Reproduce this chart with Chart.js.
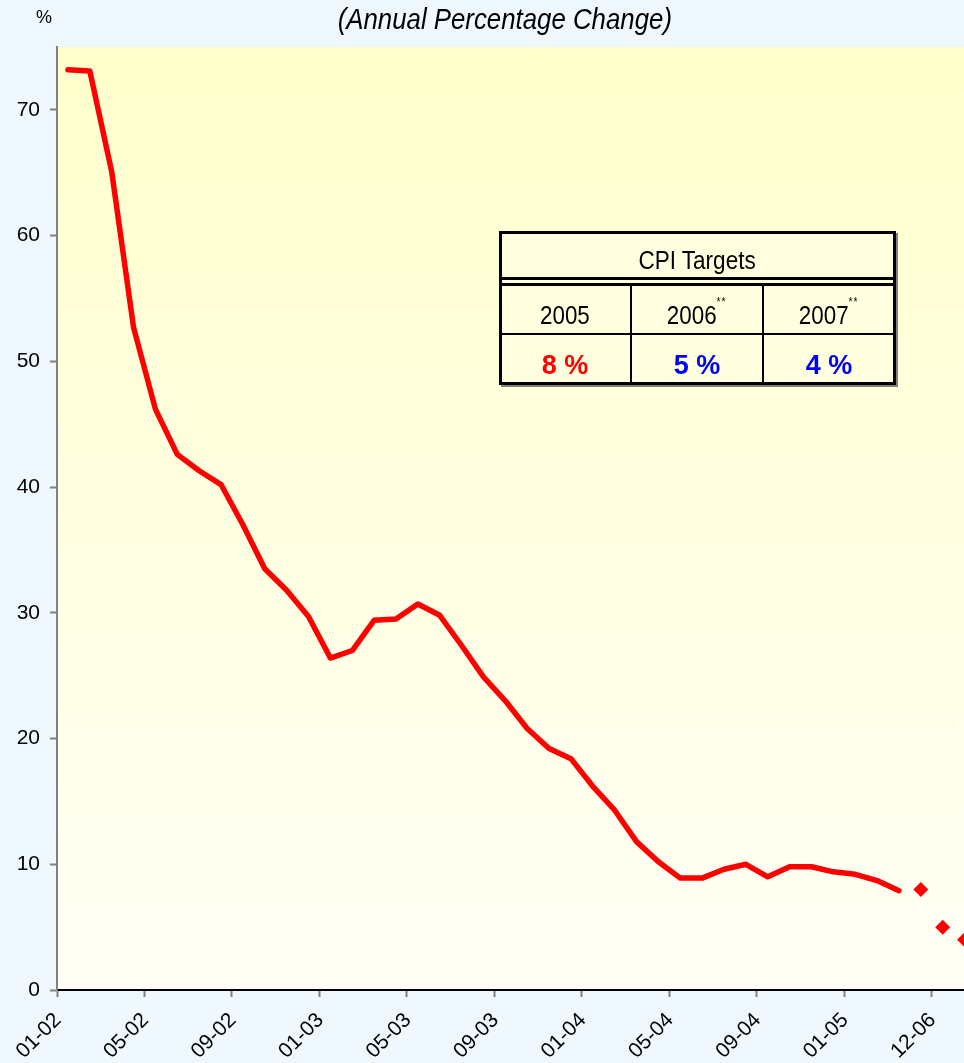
<!DOCTYPE html>
<html><head><meta charset="utf-8">
<script src="https://cdn.jsdelivr.net/npm/chart.js@4/dist/chart.umd.min.js"></script>
<style>
html,body{margin:0;padding:0;overflow:hidden;background:#F0F8FF;width:964px;height:1063px;}
#wrap{position:absolute;left:0;top:0;width:983px;height:1063px;}
canvas{display:block;}
.t{position:absolute;font-family:"Liberation Sans",Arial,sans-serif;color:#000;white-space:nowrap;text-align:center;}
.t span.s{display:inline-block;transform-origin:50% 50%;}
.ast{position:relative;top:-18px;font-size:12px;line-height:12px;letter-spacing:1px;}
.ln{position:absolute;background:#000;}
</style>
</head>
<body>
<div id="wrap"><canvas id="c" width="983" height="1063"></canvas></div>
<div class="t" id="pct" style="left:24px;width:40px;top:8px;font-size:18px;line-height:18px;">%</div>
<div class="t" id="title" style="left:255px;width:500px;top:5px;font-size:29px;line-height:29px;font-style:italic;"><span class="s" style="transform:scaleX(0.89)">(Annual Percentage Change)</span></div>

<div id="tbl" style="position:absolute;left:499px;top:231px;width:397px;height:154px;background:#FFFFE0;border:3px solid #000;box-sizing:border-box;box-shadow:2px 2px 0 #808080;"></div>
<div class="ln" style="left:499px;top:277px;width:397px;height:3px;"></div>
<div class="ln" style="left:499px;top:283px;width:397px;height:3px;"></div>
<div class="ln" style="left:499px;top:333px;width:397px;height:2px;"></div>
<div class="ln" style="left:630px;top:283px;width:2px;height:102px;"></div>
<div class="ln" style="left:762px;top:283px;width:2px;height:102px;"></div>
<div class="t" style="left:499px;width:397px;top:248px;font-size:25px;line-height:25px;"><span class="s" style="transform:scaleX(0.9)">CPI Targets</span></div>
<div class="t" style="left:499px;width:132px;top:302px;font-size:26px;line-height:26px;"><span class="s" style="transform:scaleX(0.86)">2005</span></div>
<div class="t" style="left:631px;width:132px;top:302px;font-size:26px;line-height:26px;"><span class="s" style="transform:scaleX(0.86)">2006<span class="ast">**</span></span></div>
<div class="t" style="left:763px;width:132px;top:302px;font-size:26px;line-height:26px;"><span class="s" style="transform:scaleX(0.86)">2007<span class="ast">**</span></span></div>
<div class="t" style="left:499px;width:132px;top:352px;font-size:27px;line-height:27px;font-weight:bold;color:#FF0000;">8 %</div>
<div class="t" style="left:631px;width:132px;top:352px;font-size:27px;line-height:27px;font-weight:bold;color:#0000FF;">5 %</div>
<div class="t" style="left:763px;width:132px;top:352px;font-size:27px;line-height:27px;font-weight:bold;color:#0000FF;">4 %</div>

<script>
const categories = ['01-02','02-02','03-02','04-02','05-02','06-02','07-02','08-02','09-02','10-02','11-02','12-02',
  '01-03','02-03','03-03','04-03','05-03','06-03','07-03','08-03','09-03','10-03','11-03','12-03',
  '01-04','02-04','03-04','04-04','05-04','06-04','07-04','08-04','09-04','10-04','11-04','12-04',
  '01-05','02-05','03-05','12-05','12-06','12-07'];
const cpiActual = [73.2,73.1,65.1,52.7,46.2,42.6,41.3,40.2,37.0,33.5,31.8,29.7,
  26.4,27.0,29.4,29.5,30.7,29.8,27.4,24.9,23.0,20.8,19.2,18.4,
  16.2,14.3,11.8,10.2,8.9,8.9,9.6,10.0,9.0,9.8,9.8,9.4,
  9.2,8.7,7.9,null,null,null];
const cpiTargets = [null,null,null,null,null,null,null,null,null,null,null,null,
  null,null,null,null,null,null,null,null,null,null,null,null,
  null,null,null,null,null,null,null,null,null,null,null,null,
  null,null,null,8,5,4];
const yTicks = {min:0, max:75, step:10};
const labelEvery = 4;

const bgPlugin = {
  id:'bg',
  beforeDraw(chart){
    const {ctx, chartArea:a} = chart;
    const g = ctx.createLinearGradient(0,a.top,0,a.bottom);
    g.addColorStop(0,'#FFFFCC');
    g.addColorStop(1,'#FFFFF6');
    ctx.save();
    ctx.fillStyle = g;
    ctx.fillRect(a.left,a.top,a.right-a.left,a.bottom-a.top);
    ctx.restore();
  }
};

const chart = new Chart(document.getElementById('c'), {
  type:'line',
  data:{
    labels:categories,
    datasets:[
      {data:cpiActual, borderColor:'#FF0000', backgroundColor:'#FF0000', borderWidth:5.5,
       pointRadius:0, borderCapStyle:'round', borderJoinStyle:'round', tension:0, spanGaps:false},
      {data:cpiTargets, showLine:false, pointStyle:'rectRot', pointRadius:7.5, pointBorderWidth:0,
       pointBackgroundColor:'#FF0000', borderColor:'#FF0000', backgroundColor:'#FF0000'}
    ]
  },
  options:{
    responsive:false, animation:false, devicePixelRatio:1,
    layout:{padding:{top:47,right:0,left:0,bottom:0}},
    plugins:{legend:{display:false}, tooltip:{enabled:false}},
    scales:{
      x:{
        type:'category', offset:true,
        grid:{offset:true, drawOnChartArea:false, drawTicks:true, tickLength:7, tickWidth:2,
              tickColor: c => (c.index % labelEvery === 0) ? '#808080' : 'rgba(0,0,0,0)'},
        border:{color:'#000', width:2},
        ticks:{autoSkip:false, minRotation:45, maxRotation:45, labelOffset:-10, padding:11,
               font:{family:'Liberation Sans', size:21}, color:'#000',
               callback:(v,i)=> (i % labelEvery === 0) ? categories[i] : ''},
        afterFit: s => { s.height = 73; s.paddingLeft = 0; s.paddingRight = 0; }
      },
      y:{
        min:yTicks.min, max:yTicks.max,
        ticks:{stepSize:yTicks.step, includeBounds:false, padding:10,
               font:{family:'Liberation Sans', size:21}, color:'#000'},
        grid:{drawOnChartArea:false, tickLength:7, tickWidth:2, tickColor:'#808080'},
        border:{color:'#808080', width:2},
        afterFit: s => { s.width = 57; s.paddingTop = 0; s.paddingBottom = 0; }
      }
    }
  },
  plugins:[bgPlugin]
});
</script>
</body></html>
